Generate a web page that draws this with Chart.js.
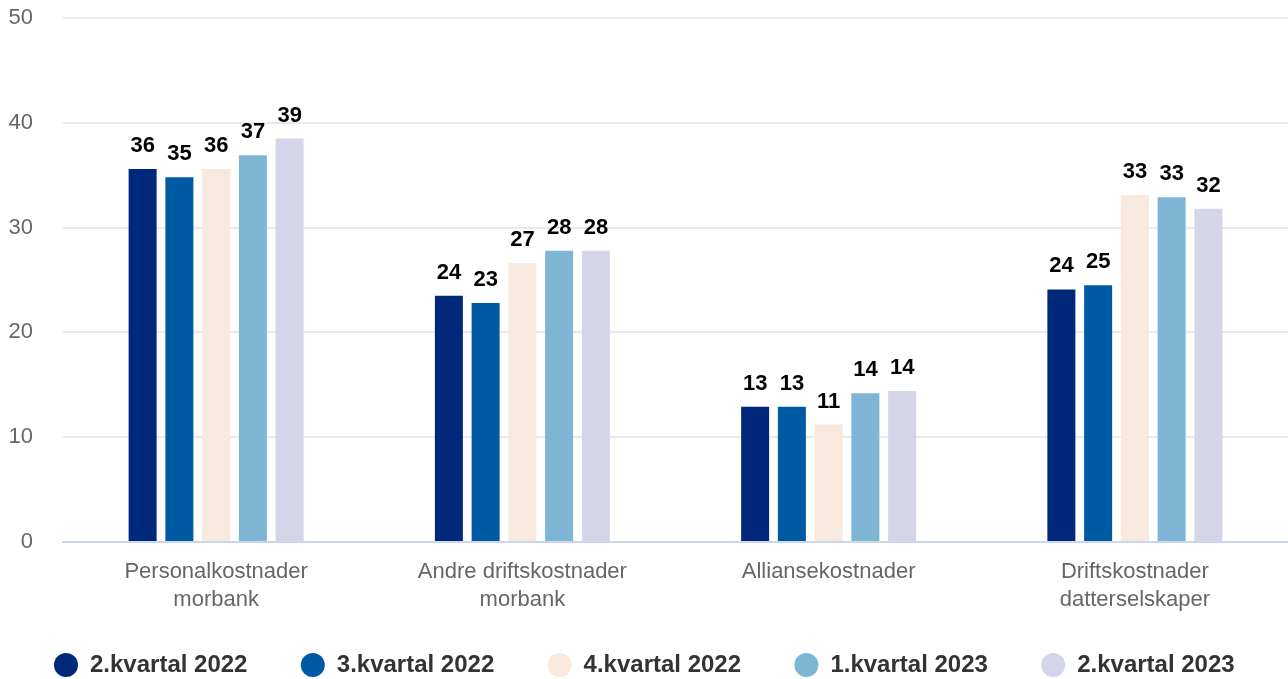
<!DOCTYPE html>
<html>
<head>
<meta charset="utf-8">
<script src="https://cdn.jsdelivr.net/npm/chart.js@4/dist/chart.umd.min.js"></script>
<style>
  html, body { margin: 0; padding: 0; background: #fff; }
  #wrap { width: 1288px; height: 679px; position: relative; }
</style>
</head>
<body>
<div id="wrap"><canvas id="cost-chart"></canvas></div>
<script>
// Kategorier og serier (mill. kr)
const categories = [
    ['Personalkostnader', 'morbank'],
    ['Andre driftskostnader', 'morbank'],
    ['Alliansekostnader'],
    ['Driftskostnader', 'datterselskaper']
];
const seriesNames = ['2.kvartal 2022', '3.kvartal 2022', '4.kvartal 2022', '1.kvartal 2023', '2.kvartal 2023'];
const q2_2022 = [35.6, 23.5, 12.9, 24.1];
const q3_2022 = [34.8, 22.8, 12.9, 24.5];
const q4_2022 = [35.6, 26.6, 11.2, 33.1];
const q1_2023 = [36.9, 27.8, 14.2, 32.9];
const q2_2023 = [38.5, 27.8, 14.4, 31.8];
const yTicks = [0, 10, 20, 30, 40, 50];

const colors = ['#00287a', '#005aa3', '#f7e9dd', '#7fb5d4', '#d5d5ea'];
const seriesValues = [q2_2022, q3_2022, q4_2022, q1_2023, q2_2023];

Chart.defaults.font.family = '"Liberation Sans", Arial, sans-serif';

// Verdier over søylene
const valueLabels = {
    id: 'valueLabels',
    afterDatasetsDraw: function (chart) {
        const ctx = chart.ctx;
        ctx.save();
        ctx.font = 'bold 22px "Liberation Sans", Arial, sans-serif';
        ctx.fillStyle = '#000';
        ctx.textAlign = 'center';
        ctx.textBaseline = 'alphabetic';
        chart.data.datasets.forEach(function (ds, i) {
            chart.getDatasetMeta(i).data.forEach(function (bar, j) {
                ctx.fillText(String(Math.round(ds.data[j])), bar.x, bar.y - 17);
            });
        });
        ctx.restore();
    }
};

new Chart(document.getElementById('cost-chart'), {
    type: 'bar',
    data: {
        labels: categories,
        datasets: seriesNames.map(function (name, i) {
            return {
                label: name,
                data: seriesValues[i],
                backgroundColor: colors[i],
                borderWidth: 0,
                barPercentage: 0.762,
                categoryPercentage: 0.6
            };
        })
    },
    options: {
        responsive: true,
        maintainAspectRatio: false,
        animation: false,
        layout: { padding: { top: 18, right: 0, left: 0, bottom: 0 } },
        scales: {
            x: {
                grid: { display: false },
                border: { display: true, color: '#ccd6eb', width: 2 },
                ticks: {
                    color: '#666',
                    font: { size: 22, lineHeight: 1.27 },
                    padding: 8,
                    maxRotation: 0,
                    autoSkip: false
                },
                afterFit: function (scale) { scale.height = 71; }
            },
            y: {
                min: 0,
                max: 50,
                afterBuildTicks: function (scale) {
                    scale.ticks = yTicks.map(function (v) { return { value: v }; });
                },
                grid: { color: '#e9e9e9', lineWidth: 2, drawTicks: false },
                border: { display: false },
                ticks: {
                    color: '#666',
                    font: { size: 22 },
                    padding: 30
                },
                afterFit: function (scale) {
                    scale.width = 63;
                    // tick-padding skal ikke gi ekstra luft over/under
                    scale.paddingTop = 0;
                    scale.paddingBottom = 0;
                }
            }
        },
        plugins: {
            legend: {
                position: 'bottom',
                align: 'end',
                maxHeight: 66,
                labels: {
                    usePointStyle: true,
                    pointStyle: 'circle',
                    boxHeight: 17,
                    pointStyleWidth: 24,
                    padding: 40,
                    color: '#333',
                    font: { size: 24, weight: 'bold' },
                    generateLabels: function (chart) {
                        // litt ekstra luft etter hver tekst
                        return Chart.defaults.plugins.legend.labels.generateLabels(chart).map(function (item) {
                            item.text = item.text + '  ';
                            return item;
                        });
                    }
                }
            },
            tooltip: { enabled: false }
        }
    },
    plugins: [valueLabels]
});
</script>
</body>
</html>
